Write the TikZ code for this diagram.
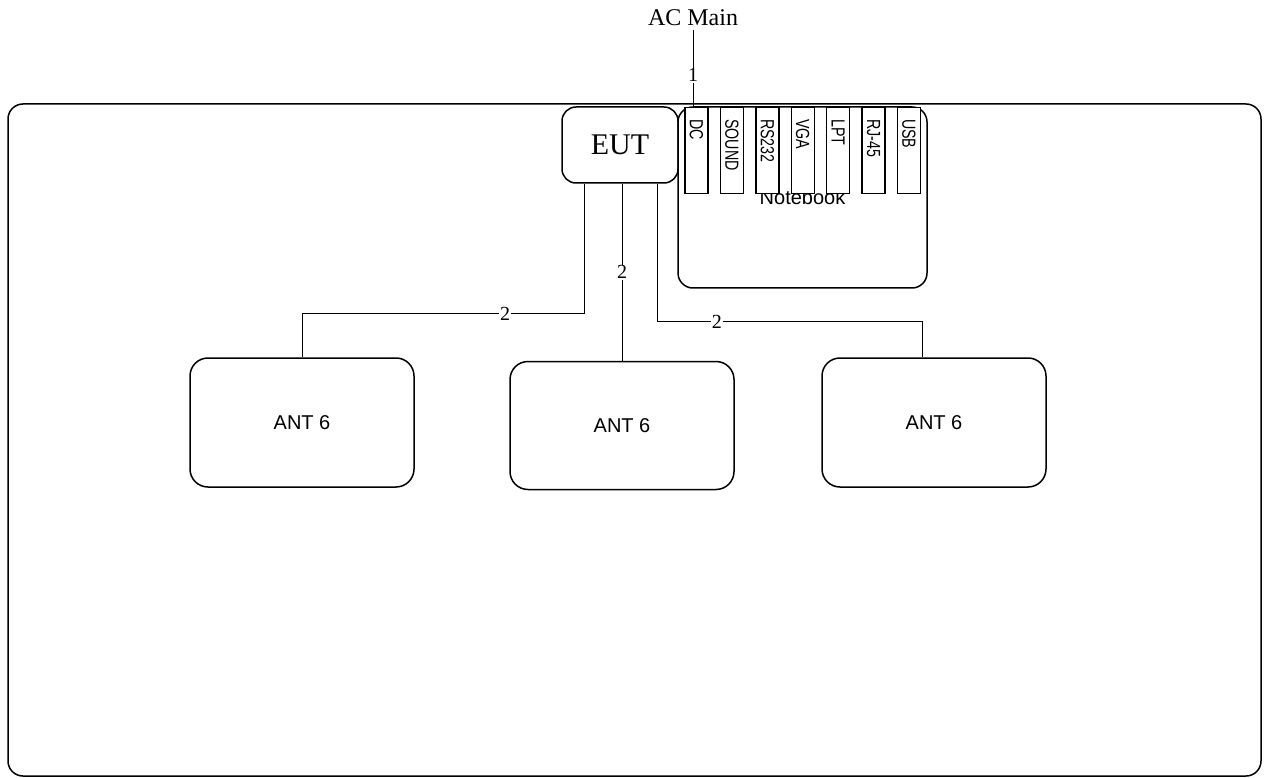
\documentclass[tikz,border=0pt]{standalone}
\usepackage{fontspec}
\setmainfont{Liberation Serif}
\setsansfont{Liberation Sans}
\usepackage{tikz}

\newcommand{\fsz}[1]{\fontsize{#1}{#1}\selectfont}

\begin{document}
\begin{tikzpicture}[x=1pt,y=-1pt,
  box/.style={draw,line width=1.5pt,rounded corners=15pt,inner sep=0pt},
  port/.style={draw,fill=white,line width=1.4pt,minimum width=23pt,minimum height=86pt,anchor=north,inner sep=0pt},
  portlbl/.style={rotate=-90,xscale=0.75,anchor=west,inner sep=0pt,font=\sffamily\fsz{19}},
  wire/.style={line width=0.8pt},
  num/.style={fill=white,inner sep=1pt,font=\fsz{20}}]
\useasboundingbox (0,0) rectangle (1267,778);
\draw[line width=1.5pt,rounded corners=15pt] (8,104) rectangle (1261,776);

\node (ac) at (693,18) {\fsz{24}AC Main};
\node[box,rounded corners=14pt,minimum width=116pt,minimum height=76pt,font=\fsz{30}] (eut) at (620,145) {EUT};
\node[box,minimum width=249pt,minimum height=181pt,font=\sffamily\fsz{20}] (nb) at (802.5,197.5) {Notebook};
\foreach \n [count=\i from 0] in {DC,SOUND,RS232,VGA,LPT,RJ-45,USB} {
  \node[port] (p\i) at (696.5+35.4*\i,107) {};
  \node[portlbl] at ([yshift=-12pt]p\i.north) {\n};
}

\node[box,rounded corners=18pt,minimum width=224pt,minimum height=129pt,font=\sffamily\fsz{20}] (ant1) at (302,422.5) {ANT 6};
\node[box,rounded corners=18pt,minimum width=224pt,minimum height=128pt,font=\sffamily\fsz{20}] (ant2) at (622,425.5) {ANT 6};
\node[box,rounded corners=18pt,minimum width=224pt,minimum height=129pt,font=\sffamily\fsz{20}] (ant3) at (934,422.5) {ANT 6};

\draw[wire] (ac) -- node[num,pos=0.59] {1} (ac |- p0.north);
\draw[wire] ([xshift=-36pt]eut.south) -- ++(0,130) -| node[num,pos=0.14] {2} (ant1.north);
\draw[wire] (ant2.north |- eut.south) -- node[num] {2} (ant2.north);
\draw[wire] ([xshift=37pt]eut.south) -- ++(0,138) -| node[num,pos=0.113] {2} ([xshift=-12pt]ant3.north);
\end{tikzpicture}
\end{document}
